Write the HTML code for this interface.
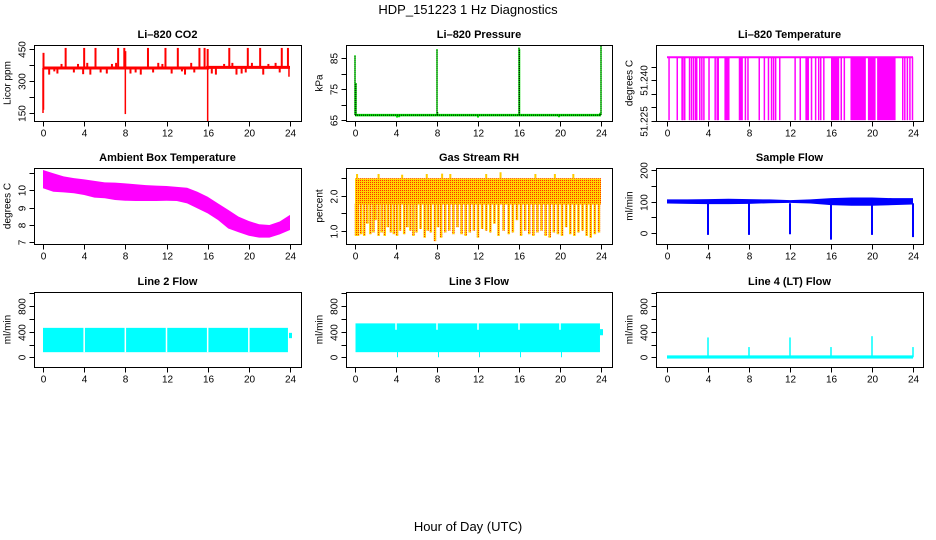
<!DOCTYPE html>
<html><head><meta charset="utf-8"><style>
html,body{margin:0;padding:0;background:#fff;}
svg{display:block;font-family:"Liberation Sans",Arial,sans-serif;}
</style></head><body>
<svg id="chart" width="936" height="540" viewBox="0 0 936 540">
<defs>
<pattern id="rhpat" width="2" height="2" patternUnits="userSpaceOnUse">
<rect width="2" height="2" fill="#ffd400"/><rect width="1" height="1" fill="#ff3000"/>
</pattern>
</defs>
<text x="468" y="14" text-anchor="middle" font-size="13">HDP_151223  1 Hz Diagnostics</text>
<text x="468" y="531" text-anchor="middle" font-size="13">Hour of Day (UTC)</text>
</svg>
<script>
// ---------- data ----------
const xTicks=[0,4,8,12,16,20,24];
// CO2
const co2BaseHours=[0,16,16,24];
const co2BaseVals=[361,361,364,364];
const co2UpHours=[0.05,2.2,4.0,5.1,7.3,7.9,8.0,10.2,11.9,13.1,15.2,15.7,16.0,18.1,19.9,21.1,23.2,23.8];
const co2UpVals=[432,455,455,455,455,455,440,455,455,455,455,455,450,455,455,455,455,455];
const co2DownHours=[0.0,0.05,8.0,16.0,23.9];
const co2DownVals=[150,165,145,112,320];
const co2SmallHours=[0.6,1.1,1.4,1.8,3.0,3.4,3.9,4.3,4.6,5.6,6.2,6.7,7.1,8.5,9.0,9.5,10.7,11.2,11.6,12.5,13.5,13.8,14.4,14.7,16.4,16.8,17.6,18.4,18.8,19.3,19.7,20.3,21.4,21.9,22.6,23.0];
const co2SmallVals=[330,345,335,380,340,380,332,385,330,340,335,380,385,335,340,330,340,385,380,335,345,330,385,340,335,330,380,385,330,335,340,385,330,380,385,340];
// Pressure
const presBaseHours=[0,24];
const presBaseVals=[66.6,66.6];
const presSpikeHours=[0,0.1,8.0,8.05,16.0,16.05,24.0,23.9];
const presSpikeVals=[86,77,88,67.6,88.5,88,89,67.3];
const presDipHours=[4.1,4.3,12.0,19.9];
const presDipVals=[65.8,65.9,65.8,65.9];
// Li-820 temperature
const tempTop=51.2485;
const tempBottom=51.2253;
const tempDropHours=[0.2,1.0,1.47,1.56,1.73,2.2,2.4,2.6,2.8,2.9,3.2,3.4,3.6,4.1,4.7,4.9,5.0,7.65,7.9,9.0,9.5,9.9,10.2,10.4,10.6,11.0,12.5,13.0,14.1,14.5,14.8,15.0,15.3,17.0,17.3,23.0,23.2,23.45,23.7,23.95];
const tempBlockStart=[5.6,7.0,13.5,16.0,17.9,19.6,20.5];
const tempBlockEnd=[6.1,7.4,13.85,16.8,19.4,20.35,22.3];
// Ambient box temperature
const ambHours=[0,1,2,3,4,5,6,7,8,9,10,11,12,13,14,15,16,17,18,19,20,21,22,23,24];
const ambUpper=[11.17,10.98,10.8,10.7,10.63,10.54,10.46,10.44,10.4,10.35,10.3,10.27,10.25,10.2,10.15,9.92,9.63,9.25,8.87,8.48,8.23,8.04,8.0,8.2,8.58];
const ambLower=[10.12,9.92,9.88,9.83,9.73,9.58,9.54,9.44,9.4,9.38,9.38,9.38,9.4,9.38,9.25,8.96,8.67,8.29,7.8,7.58,7.38,7.27,7.27,7.46,7.71];
// Gas stream RH
const rhTop=2.5;
const rhCore=1.75;
const rhDipHours=[0.1,0.3,0.6,0.9,1.2,1.5,1.8,2.0,2.3,2.6,2.9,3.2,3.5,3.8,4.1,4.4,4.8,5.1,5.4,5.7,6.0,6.4,6.8,7.1,7.4,7.8,8.1,8.4,8.8,9.2,9.6,10.0,10.4,10.8,11.2,11.6,12.0,12.4,12.8,13.2,13.6,14.0,14.5,15.0,15.4,15.8,16.2,16.6,17.0,17.4,17.8,18.2,18.6,19.0,19.4,19.8,20.2,20.6,21.0,21.4,21.8,22.2,22.6,23.0,23.4,23.8];
const rhDipVals=[0.85,0.85,0.9,0.85,1.2,0.9,0.95,1.3,0.85,0.95,0.85,1.1,0.95,0.9,0.85,1.0,0.9,1.1,1.0,0.85,0.95,1.05,0.8,1.0,0.95,0.7,1.1,0.8,0.95,1.0,0.9,1.1,0.9,0.85,0.95,1.0,0.8,1.05,1.0,0.95,1.2,0.85,1.0,0.9,0.95,1.3,0.85,1.0,0.9,0.85,0.95,1.0,0.85,0.8,0.95,0.9,0.85,1.1,0.9,0.85,0.95,1.0,0.85,0.8,0.9,0.95];
const rhPeakHours=[0.2,2.3,4.6,7.0,8.5,9.3,12.8,14.2,17.6,19.5,21.3];
const rhPeakVals=[2.62,2.62,2.6,2.62,2.63,2.62,2.62,2.67,2.62,2.62,2.62];
// Sample flow
const sfHours=[0,2,4,6,8,10,12,14,16,18,20,22,24];
const sfUpper=[107,107,108,109,108,107,105,107,111,113,113,111,111];
const sfLower=[94,93,92,92,93,95,96,94,89,87,87,89,91];
const sfDropHours=[4,8,12,16,20,24];
const sfDropVals=[-5,-5,-3,-20,-5,-12];
// Line flows
const gapHours=[4,8,12,16,20];
const l2Range=[0,23.8];
const l2Upper=460, l2Lower=80;
const l3Range=[0.05,23.9];
const l3Upper=530, l3Lower=80;
const l3GapVals=[430,430,430,430,430];
const l4SpikeHours=[4,8,12,16,20,24];
const l4SpikeVals=[310,160,310,160,330,160];

// ---------- layout ----------
const svg=document.getElementById('chart');
const NS='http://www.w3.org/2000/svg';
const colX0=[43,355,667], colX24=[290,601,913];
const boxL=[34,346,656], boxR=[301,612,923];
const rowT=[45,168,292], rowB=[121,244,367];
function mk(tag,attrs,parent){const e=document.createElementNS(NS,tag);for(const k in attrs)e.setAttribute(k,attrs[k]);(parent||svg).appendChild(e);return e;}
function lin(v1,p1,v2,p2){return v=>p1+(v-v1)*(p2-p1)/(v2-v1);}

function panel(name,col,row,title,ylab,Y,ticks,labels){
  const g=mk('g',{});
  
  
  const X=h=>colX0[col]+h*(colX24[col]-colX0[col])/24;
  const t=mk('text',{x:(boxL[col]+boxR[col])/2,y:rowT[row]-7,'text-anchor':'middle','font-size':11,'font-weight':'bold'},g);
  t.textContent=title;
  
  
  const data=mk('g',{},g);
  
  
  const box=mk('rect',{x:boxL[col]+0.5,y:rowT[row]+0.5,width:boxR[col]-boxL[col],height:rowB[row]-rowT[row],fill:'none',stroke:'#000'},g);
  
  
  const xa=mk('g',{},g);
  
  
  const yb=rowB[row]+0.5;
  xTicks.forEach(h=>{
    const x=Math.round(X(h))+0.5;
    const tk=mk('line',{x1:x,x2:x,y1:yb,y2:yb+5,stroke:'#000'},xa);
    
    const lb=mk('text',{x:x,y:yb+15,'text-anchor':'middle','font-size':10},xa);
    lb.textContent=h;
    
  });
  const ya=mk('g',{},g);
  
  
  const xl=boxL[col]+0.5;
  ticks.forEach((v,i)=>{
    const y=Math.round(Y(v))+0.5;
    const tk=mk('line',{x1:xl-5,x2:xl,y1:y,y2:y,stroke:'#000'},ya);
    
    if(labels[i]!==''){
      const lb=mk('text',{x:0,y:0,'text-anchor':'middle','font-size':10,transform:`translate(${xl-9},${y}) rotate(-90)`},ya);
      lb.textContent=labels[i];
      
    }
  });
  const yl=mk('text',{x:0,y:0,'text-anchor':'middle','font-size':10,transform:`translate(${xl-24},${(rowT[row]+rowB[row])/2}) rotate(-90)`},g);
  yl.textContent=ylab;
  
  
  return {X,g:data};
}
function vline(g,x,y1,y2,color,w,name){
  const l=mk('line',{x1:x,x2:x,y1:y1,y2:y2,stroke:color,'stroke-width':w||1},g);
  
  return l;
}
function polyBand(g,xs,up,lo,fill,name){
  const pts=xs.map((x,i)=>x+','+up[i]).concat(xs.map((x,i)=>x+','+lo[i]).reverse()).join(' ');
  const p=mk('polygon',{points:pts,fill:fill},g);
  
  return p;
}

// ---- CO2 ----
(function(){
  const Y=lin(150,113,450,49);
  const {X,g}=panel('co2-panel',0,0,'Li\u2013820 CO2','Licor ppm',Y,[150,225,300,375,450],['150','','300','','450']);
  const pts=co2BaseHours.map((h,i)=>X(h)+','+Y(co2BaseVals[i])).join(' ');
  const b=mk('polyline',{points:pts,fill:'none',stroke:'#f00','stroke-width':3},g);
  
  co2SmallHours.forEach((h,i)=>vline(g,X(h),Y(362),Y(co2SmallVals[i]),'#f00',2,'co2-small-spike'));
  co2UpHours.forEach((h,i)=>vline(g,X(h),Y(362),Y(co2UpVals[i]),'#f00',2,'co2-up-spike'));
  co2DownHours.forEach((h,i)=>vline(g,X(h),Y(362),Y(co2DownVals[i]),'#f00',1.5,'co2-down-spike'));
})();
// ---- Pressure ----
(function(){
  const Y=lin(65,120,85,58.3);
  const {X,g}=panel('pressure-panel',1,0,'Li\u2013820 Pressure','kPa',Y,[65,70,75,80,85],['65','','75','','85']);
  const pts=presBaseHours.map((h,i)=>X(h)+','+Y(presBaseVals[i])).join(' ');
  const b=mk('polyline',{points:pts,fill:'none',stroke:'#0d0','stroke-width':2.5},g);
  
  presDipHours.forEach((h,i)=>vline(g,X(h),Y(66.6),Y(presDipVals[i]),'#0d0',2,'pressure-dip'));
  presSpikeHours.forEach((h,i)=>vline(g,X(h),Y(66.6),Y(presSpikeVals[i]),'#0d0',1.5,'pressure-spike'));
  const d=mk('polyline',{points:pts,fill:'none',stroke:'#000','stroke-width':1,'stroke-dasharray':'1,1'},g);
  
  presSpikeHours.forEach((h,i)=>{const l=vline(g,X(h),Y(66.6),Y(presSpikeVals[i]),'#000',0.8,'pressure-spike-dotted');l.setAttribute('stroke-dasharray','1,1');});
})();
// ---- Li-820 Temperature ----
(function(){
  const Y=lin(51.225,121,51.240,80.3);
  const {X,g}=panel('li820-temperature-panel',2,0,'Li\u2013820 Temperature','degrees C',Y,[51.225,51.230,51.235,51.240,51.245],['51.225','','','51.240','']);
  tempBlockStart.forEach((s,i)=>{
    const r=mk('rect',{x:X(s),y:Y(tempTop),width:X(tempBlockEnd[i])-X(s),height:Y(tempBottom)-Y(tempTop),fill:'#f0f'},g);
    
  });
  tempDropHours.forEach(h=>vline(g,X(h),Y(tempTop),Y(tempBottom),'#f0f',1.5,'temperature-drop'));
  const b=mk('line',{x1:X(0),x2:X(24),y1:Y(tempTop),y2:Y(tempTop),stroke:'#f0f','stroke-width':2},g);
  
})();
// ---- Ambient ----
(function(){
  const Y=lin(10,190.3,8,225);
  const {X,g}=panel('ambient-temperature-panel',0,1,'Ambient Box Temperature','degrees C',Y,[7,8,9,10,11],['7','8','9','10','']);
  polyBand(g,ambHours.map(X),ambUpper.map(Y),ambLower.map(Y),'#f0f','ambient-band');
})();
// ---- RH ----
(function(){
  const Y=lin(1.0,230.7,2.0,195.7);
  const {X,g}=panel('gas-stream-rh-panel',1,1,'Gas Stream RH','percent',Y,[1.0,1.5,2.0,2.5],['1.0','','2.0','']);
  const r=mk('rect',{x:X(0),y:Y(rhTop),width:X(24)-X(0),height:Y(rhCore)-Y(rhTop),fill:'url(#rhpat)'},g);
  
  rhDipHours.forEach((h,i)=>{
    const w=2.5;
    const d=mk('rect',{x:X(h)-w/2,y:Y(rhCore)-1,width:w,height:Y(rhDipVals[i])-Y(rhCore)+1,fill:'url(#rhpat)'},g);
    
  });
  rhPeakHours.forEach((h,i)=>vline(g,X(h),Y(rhTop),Y(rhPeakVals[i]),'#fc0',2,'rh-peak'));
})();
// ---- Sample flow ----
(function(){
  const Y=lin(0,233.3,200,170);
  const {X,g}=panel('sample-flow-panel',2,1,'Sample Flow','ml/min',Y,[0,50,100,150,200],['0','','100','','200']);
  polyBand(g,sfHours.map(X),sfUpper.map(Y),sfLower.map(Y),'#00f','sample-flow-band');
  sfDropHours.forEach((h,i)=>vline(g,X(h),Y(95),Y(sfDropVals[i]),'#00f',2,'sample-flow-drop'));
})();
// ---- Line flows ----
function flowPanel(name,col,title,range,up,lo,gapVals){
  const Y=lin(0,357.3,1000,293.3);
  const {X,g}=panel(name,col,2,title,'ml/min',Y,[0,200,400,600,800,1000],['0','','400','','800','']);
  if(range){
    const r=mk('rect',{x:X(range[0]),y:Y(up),width:X(range[1])-X(range[0]),height:Y(lo)-Y(up),fill:'#0ff'},g);
    
    gapHours.forEach((h,i)=>{
      vline(g,X(h),Y(up)-1,Y(gapVals?gapVals[i]:lo),'#fff',1.5,'flow-gap');
      if(gapVals) vline(g,X(h)+1.5,Y(gapVals[i]),Y(0),'#0ff',1,'flow-gap-dip');
    });
    const tail=mk('rect',{x:X(24)-1,y:Y(up*0.83),width:3,height:Y(up*0.65)-Y(up*0.83),fill:'#0ff'},g);
    
  }
  return {X,Y,g};
}
flowPanel('line2-flow-panel',0,'Line 2 Flow',l2Range,l2Upper,l2Lower,null);
flowPanel('line3-flow-panel',1,'Line 3 Flow',l3Range,l3Upper,l3Lower,l3GapVals);
(function(){
  const {X,Y,g}=flowPanel('line4-flow-panel',2,'Line 4 (LT) Flow',null);
  const b=mk('rect',{x:X(0),y:Y(30),width:X(24)-X(0),height:Y(-20)-Y(30),fill:'#0ff'},g);
  
  l4SpikeHours.forEach((h,i)=>vline(g,X(h),Y(0),Y(l4SpikeVals[i]),'#0ff',1.5,'line4-spike'));
})();
</script>
</body></html>
